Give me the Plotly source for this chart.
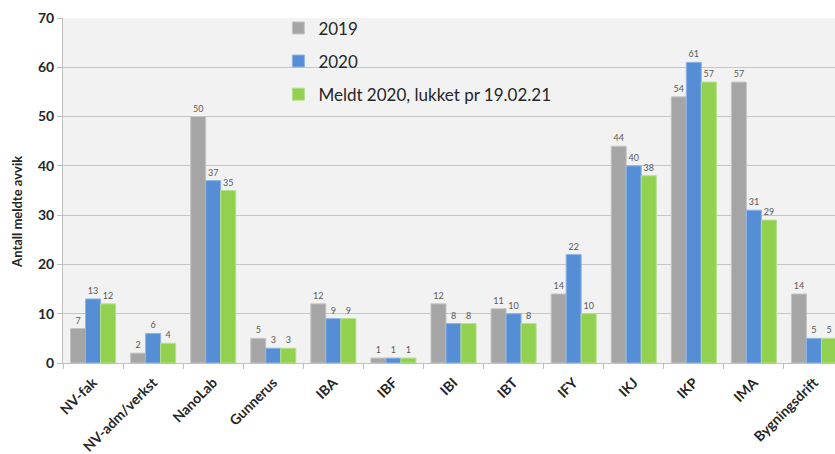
import plotly.graph_objects as go

categories = ["NV-fak", "NV-adm/verkst", "NanoLab", "Gunnerus", "IBA", "IBF", "IBI",
              "IBT", "IFY", "IKJ", "IKP", "IMA", "Bygningsdrift"]
avvik_2019 = [7, 2, 50, 5, 12, 1, 12, 11, 14, 44, 54, 57, 14]
avvik_2020 = [13, 6, 37, 3, 9, 1, 8, 10, 22, 40, 61, 31, 5]
lukket_2020 = [12, 4, 35, 3, 9, 1, 8, 8, 10, 38, 57, 29, 5]

series = [
    ("2019", avvik_2019, "#a5a5a5", "#c4c4c4"),
    ("2020", avvik_2020, "#558ed5", "#8db4e6"),
    ("Meldt 2020, lukket pr 19.02.21", lukket_2020, "#92d050", "#b5e08a"),
]

fig = go.Figure()
for i, (name, vals, col, edge) in enumerate(series):
    fig.add_trace(go.Bar(
        x=categories, y=vals, name=name,
        marker=dict(color=col, line=dict(color=edge, width=1)),
        text=[str(v) for v in vals], textposition="outside",
        textfont=dict(size=9, color="#595959", family="Lato"),
        cliponaxis=False, legendgroup=f"g{i}",
    ))

fig.update_layout(
    width=835, height=454,
    margin=dict(l=63, r=0, t=18, b=91),
    paper_bgcolor="white", plot_bgcolor="#f2f2f2",
    barmode="group", bargap=0.25, bargroupgap=0,
    font=dict(family="Lato", color="#262626"),
    showlegend=True,
    legend=dict(x=0.279, y=1.022, xanchor="left", yanchor="top",
                bgcolor="rgba(0,0,0,0)", font=dict(size=17, color="#262626"),
                tracegroupgap=8, itemwidth=30),
    uniformtext=dict(minsize=8, mode="show"),
    annotations=[dict(
        text="<b>Antall meldte avvik</b>", xref="paper", yref="paper",
        x=-0.0596, y=0.438, xanchor="center", yanchor="middle",
        textangle=-90, showarrow=False,
        font=dict(size=13, color="#262626"),
    )],
)
fig.update_xaxes(
    range=[-0.5, 12.35], tickangle=-45, tickson="boundaries",
    ticks="outside", ticklen=5, tickcolor="#bfbfbf",
    showline=True, linecolor="#bfbfbf", linewidth=1,
    tickfont=dict(size=14, color="#262626", weight="bold"),
    ticklabelstandoff=5,
    showgrid=False,
)
fig.update_yaxes(
    range=[0, 70], dtick=10, ticks="outside", ticklen=5, tickcolor="#bfbfbf",
    showline=True, linecolor="#bfbfbf", linewidth=1,
    gridcolor="#c6c6c6", gridwidth=1, zeroline=False,
    tickfont=dict(size=14, color="#262626", weight="bold"),
)

fig.write_html("out.html")
